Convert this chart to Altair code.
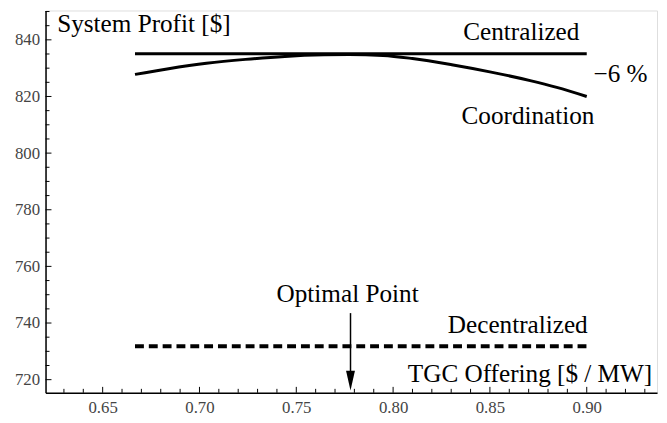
import altair as alt
import pandas as pd

# ---- data ----
tgc_x = [0.6667, 0.6833, 0.7036, 0.7238, 0.7441, 0.7644, 0.7771, 0.7948, 0.8100, 0.8303, 0.8506, 0.8708, 0.8845, 0.9000]
coordination = [827.8, 829.7, 831.7, 833.1, 834.15, 834.7, 834.8, 834.5, 833.4, 831.2, 828.6, 825.6, 823.2, 820.0]
centralized_x = [0.6667, 0.9000]
centralized = [835.1, 835.1]
decentralized_x = [0.6667, 0.9020]
decentralized = [731.8, 731.8]
optimal_x = 0.778
arrow_top = 743.5
arrow_tip = 716.2

x_major = [0.65, 0.70, 0.75, 0.80, 0.85, 0.90]
x_minor = [0.63, 0.64, 0.66, 0.67, 0.68, 0.69, 0.71, 0.72, 0.73, 0.74, 0.76, 0.77, 0.78, 0.79,
           0.81, 0.82, 0.83, 0.84, 0.86, 0.87, 0.88, 0.89, 0.91, 0.92, 0.93]
y_major = [720, 740, 760, 780, 800, 820, 840]
y_minor = [725, 730, 735, 745, 750, 755, 765, 770, 775, 785, 790, 795, 805, 810, 815, 825, 830, 835, 845, 850]

labels = ["System Profit [$]", "Centralized", "\u22126 %", "Coordination", "Optimal Point", "Decentralized", "TGC Offering [$ / MW]"]
label_x = [0.6265, 0.8962, 0.9035, 0.9040, 0.7765, 0.9005, 0.9338]
label_y = [845.5, 842.7, 828.0, 813.0, 750.3, 739.1, 722.0]
label_align = ["left", "right", "left", "right", "center", "right", "right"]

W, H = 619, 387
FONT = "Liberation Serif"

xs = alt.Scale(domain=[0.6205, 0.9363], nice=False, zero=False)
ys = alt.Scale(domain=[715.36, 850.36], nice=False, zero=False)

coord_df = pd.DataFrame({"x": tgc_x, "y": coordination})
cent_df = pd.DataFrame({"x": centralized_x, "y": centralized})
dec_df = pd.DataFrame({"x": decentralized_x, "y": decentralized})

base_axes = alt.Chart(coord_df).mark_line(color="black", strokeWidth=3, interpolate="monotone").encode(
    x=alt.X("x:Q", scale=xs, axis=alt.Axis(values=x_major, format=".2f", ticks=False, grid=False,
                                          domainColor="black", domainWidth=1.5, labelFont=FONT,
                                          labelFontSize=17, labelColor="#444", labelPadding=7, title=None)),
    y=alt.Y("y:Q", scale=ys, axis=alt.Axis(values=y_major, format="d", ticks=False, grid=False,
                                          domainColor="black", domainWidth=1.5, labelFont=FONT,
                                          labelFontSize=17, labelColor="#444", labelPadding=6, title=None)),
)

cent = alt.Chart(cent_df).mark_line(color="black", strokeWidth=3).encode(
    x=alt.X("x:Q", scale=xs), y=alt.Y("y:Q", scale=ys))

dec = alt.Chart(dec_df).mark_line(color="black", strokeWidth=4, strokeDash=[9, 5]).encode(
    x=alt.X("x:Q", scale=xs), y=alt.Y("y:Q", scale=ys))

arrow_df = pd.DataFrame({"x": [optimal_x], "y": [arrow_top], "y2": [arrow_tip + 6]})
stem = alt.Chart(arrow_df).mark_rule(color="black", strokeWidth=1.5).encode(
    x=alt.X("x:Q", scale=xs), y=alt.Y("y:Q", scale=ys), y2="y2:Q")
head_df = pd.DataFrame({"x": [optimal_x], "y": [arrow_tip]})
head = alt.Chart(head_df).mark_point(
    shape="M-0.45,-2 L0.45,-2 L0,0 Z", filled=True, color="black", opacity=1, size=400, strokeWidth=0
).encode(x=alt.X("x:Q", scale=xs), y=alt.Y("y:Q", scale=ys))

xmaj = alt.Chart(pd.DataFrame({"v": x_major})).mark_rule(color="black", strokeWidth=1).encode(
    x=alt.X("v:Q", scale=xs), y=alt.value(H), y2=alt.value(H - 6))
xmin = alt.Chart(pd.DataFrame({"v": x_minor})).mark_rule(color="black", strokeWidth=1).encode(
    x=alt.X("v:Q", scale=xs), y=alt.value(H), y2=alt.value(H - 4))
ymaj = alt.Chart(pd.DataFrame({"v": y_major})).mark_rule(color="black", strokeWidth=1).encode(
    y=alt.Y("v:Q", scale=ys), x=alt.value(0), x2=alt.value(6))
ymin = alt.Chart(pd.DataFrame({"v": y_minor})).mark_rule(color="black", strokeWidth=1).encode(
    y=alt.Y("v:Q", scale=ys), x=alt.value(0), x2=alt.value(4))

text_layers = []
for t, lx, ly, al in zip(labels, label_x, label_y, label_align):
    text_layers.append(
        alt.Chart(pd.DataFrame({"x": [lx], "y": [ly], "t": [t]})).mark_text(
            font=FONT, fontSize=25.5, color="black", align=al, baseline="middle"
        ).encode(x=alt.X("x:Q", scale=xs), y=alt.Y("y:Q", scale=ys), text="t:N")
    )

chart = alt.layer(base_axes, cent, dec, stem, head, xmaj, xmin, ymaj, ymin, *text_layers).properties(
    width=W, height=H,
    autosize=alt.AutoSizeParams(type="none"),
    padding={"left": 38, "top": 0, "right": 2, "bottom": 25},
).configure_view(stroke=None).configure(background="white")

chart.save("out.html", embed_options={"renderer": "svg", "actions": False})
